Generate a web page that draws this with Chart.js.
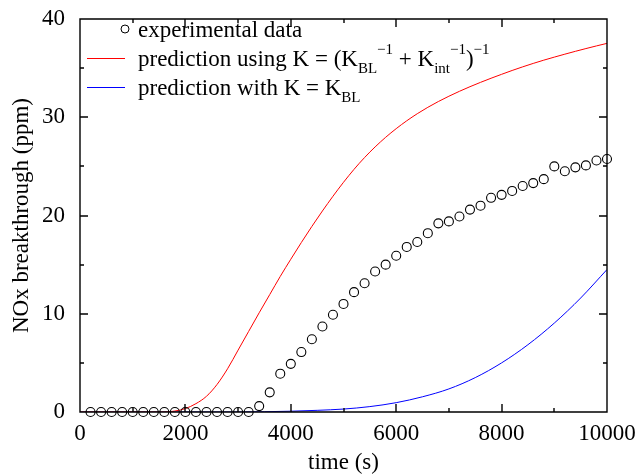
<!DOCTYPE html>
<html>
<head>
<meta charset="utf-8">
<script src="https://cdn.jsdelivr.net/npm/chart.js@4.4.1/dist/chart.umd.min.js"></script>
<style>
  html, body { margin: 0; padding: 0; background: #fff; }
  #wrap { width: 637px; height: 474px; }
</style>
</head>
<body>
<div id="wrap"><canvas id="chart" width="637" height="474"></canvas></div>
<script>
// Experimental points (time in s, NOx in ppm)
const expTime = [200, 400, 600, 800, 1000, 1200, 1400, 1600, 1800, 2000, 2200, 2400, 2600, 2800, 3000, 3200,
    3400, 3600, 3800, 4000, 4200, 4400, 4600, 4800, 5000, 5200, 5400, 5600, 5800, 6000, 6200, 6400,
    6600, 6800, 7000, 7200, 7400, 7600, 7800, 8000, 8200, 8400, 8600, 8800, 9000, 9200, 9400, 9600,
    9800, 10000];
const expNox = [0, 0, 0, 0, 0, 0, 0, 0, 0, 0, 0, 0, 0, 0, 0, 0,
    0.6, 2.0, 3.9, 4.9, 6.1, 7.4, 8.7, 9.9, 11.0, 12.2, 13.1, 14.3, 15.0, 15.9, 16.8, 17.3,
    18.2, 19.2, 19.4, 19.9, 20.6, 21.0, 21.8, 22.1, 22.5, 23.0, 23.3, 23.7, 25.0, 24.5, 24.9, 25.1,
    25.6, 25.75];

// Prediction with K = (K_BL^-1 + K_int^-1)^-1
const fullTime = [0, 1600, 1800, 2000, 2200, 2400, 2600, 2800, 3000, 3200, 3400, 3600, 3800, 4000,
    4200, 4400, 4600, 4800, 5000, 5200, 5400, 5600, 5800, 6000, 6200, 6400, 6600, 6800, 7000, 7200,
    7400, 7600, 7800, 8000, 8200, 8400, 8600, 8800, 9000, 9200, 9400, 9600, 9800, 10000];
const fullNox = [0, 0, 0.1, 0.35, 0.85, 1.6, 2.8, 4.4, 6.3, 8.2, 10.1, 11.95, 13.8, 15.55,
    17.25, 18.89, 20.46, 21.96, 23.38, 24.7, 25.9, 26.98, 27.96, 28.84, 29.64, 30.36, 31.01, 31.6, 32.14, 32.64,
    33.11, 33.55, 33.97, 34.37, 34.76, 35.13, 35.48, 35.81, 36.12, 36.42, 36.71, 36.99, 37.26, 37.52];

// Prediction with K = K_BL
const blTime = [0, 3000, 3500, 4000, 4500, 5000, 5500, 6000, 6500, 7000, 7500, 8000, 8500, 9000,
    9500, 10000];
const blNox = [0, 0, 0.03, 0.08, 0.17, 0.3, 0.55, 0.95, 1.55, 2.35, 3.5, 5.0, 6.85, 9.05,
    11.6, 14.5];

// Axis ticks
const xTickValues = [0, 2000, 4000, 6000, 8000, 10000];
const xMinorValues = [1000, 3000, 5000, 7000, 9000];
const yTickValues = [0, 10, 20, 30, 40];
const yMinorValues = [5, 15, 25, 35];

const FONT = 'Liberation Serif, Times New Roman, serif';

function toPoints(xs, ys) {
    return xs.map((v, i) => ({ x: v, y: ys[i] }));
}

// Frame with inward ticks on all four sides
function drawFrame(chart) {
    const ctx = chart.ctx;
    const a = chart.chartArea;
    const xs = chart.scales.x, ys = chart.scales.y;
    const L = Math.round(a.left), R = Math.round(a.right);
    const T = Math.round(a.top), B = Math.round(a.bottom);
    ctx.save();
    ctx.strokeStyle = '#000000';
    ctx.lineWidth = 1.4;
    ctx.beginPath();
    ctx.moveTo(L, T); ctx.lineTo(R, T); ctx.lineTo(R, B); ctx.lineTo(L, B); ctx.closePath();
    const tx = (v, len) => {
        const p = Math.round(xs.getPixelForValue(v));
        ctx.moveTo(p, B); ctx.lineTo(p, B - len);
        ctx.moveTo(p, T); ctx.lineTo(p, T + len);
    };
    const ty = (v, len) => {
        const p = Math.round(ys.getPixelForValue(v));
        ctx.moveTo(L, p); ctx.lineTo(L + len, p);
        ctx.moveTo(R, p); ctx.lineTo(R - len, p);
    };
    xTickValues.forEach(v => tx(v, 8));
    xMinorValues.forEach(v => tx(v, 4));
    yTickValues.forEach(v => ty(v, 8));
    yMinorValues.forEach(v => ty(v, 4));
    ctx.stroke();
    ctx.restore();
}

// Legend with sub/superscripts
function drawLegend(chart) {
    const ctx = chart.ctx;
    const ds = chart.data.datasets;
    const main = '23px ' + FONT, small = '15px ' + FONT;
    const textX = 138, rowBase = [37, 66, 95];

    // writes a sequence of [text, kind] pieces, kind: 0 normal, 1 sub, 2 sup
    const write = (pieces, base) => {
        let cx = textX;
        pieces.forEach(([txt, kind]) => {
            ctx.font = kind ? small : main;
            const dy = kind === 1 ? 7 : kind === 2 ? -12 : 0;
            ctx.fillText(txt, cx, base + dy);
            cx += ctx.measureText(txt).width;
        });
    };

    ctx.save();
    ctx.fillStyle = '#000';
    ctx.textBaseline = 'alphabetic';
    ctx.textAlign = 'left';

    // row 1: circle
    ctx.strokeStyle = ds[0].borderColor;
    ctx.lineWidth = 1;
    ctx.beginPath();
    ctx.arc(125, 29, 4, 0, Math.PI * 2);
    ctx.stroke();
    write([[ds[0].label, 0]], rowBase[0]);

    // rows 2 and 3: line samples
    [[ds[1], 58], [ds[2], 87]].forEach(([d, yy]) => {
        ctx.strokeStyle = d.borderColor;
        ctx.beginPath();
        ctx.moveTo(87, yy + 0.5);
        ctx.lineTo(125, yy + 0.5);
        ctx.stroke();
    });
    write([['prediction using K = (K', 0], ['BL', 1], ['\u22121', 2], [' + K', 0], ['int', 1],
        ['\u22121', 2], [')', 0], ['\u22121', 2]], rowBase[1]);
    write([['prediction with K = K', 0], ['BL', 1]], rowBase[2]);
    ctx.restore();
}

const overlay = {
    id: 'overlay',
    afterDraw(chart) {
        drawFrame(chart);
        drawLegend(chart);
    }
};

const ctx = document.getElementById('chart').getContext('2d');
const chart = new Chart(ctx, {
    type: 'scatter',
    data: {
        datasets: [
            {
                label: 'experimental data',
                data: toPoints(expTime, expNox),
                showLine: false,
                pointStyle: 'circle',
                pointRadius: 4.5,
                pointBorderWidth: 1.1,
                borderColor: '#000',
                backgroundColor: 'rgba(0,0,0,0)',
                clip: false
            },
            {
                label: 'prediction using K = (K_BL^-1 + K_int^-1)^-1',
                data: toPoints(fullTime, fullNox),
                showLine: true,
                borderColor: '#ff0000',
                borderWidth: 1,
                pointRadius: 0,
                cubicInterpolationMode: 'monotone'
            },
            {
                label: 'prediction with K = K_BL',
                data: toPoints(blTime, blNox),
                showLine: true,
                borderColor: '#0000ff',
                borderWidth: 1,
                pointRadius: 0,
                cubicInterpolationMode: 'monotone'
            }
        ]
    },
    options: {
        responsive: false,
        animation: false,
        devicePixelRatio: 1,
        layout: { padding: { top: 19, right: 30, left: 0, bottom: 0 } },
        plugins: {
            legend: { display: false },
            tooltip: { enabled: false }
        },
        scales: {
            x: {
                type: 'linear',
                min: 0,
                max: 10000,
                grid: { display: false, drawTicks: false },
                border: { display: false },
                afterBuildTicks: s => { s.ticks = xTickValues.map(v => ({ value: v })); },
                afterFit: s => { s.height = 62; s.paddingLeft = 0; s.paddingRight = 0; },
                ticks: {
                    maxRotation: 0,
                    autoSkip: false,
                    padding: 8,
                    color: '#000',
                    font: { family: FONT, size: 23 },
                    callback: v => String(v)
                },
                title: {
                    display: true,
                    text: 'time (s)',
                    color: '#000',
                    padding: 0,
                    font: { family: FONT, size: 23, lineHeight: 1 }
                }
            },
            y: {
                type: 'linear',
                min: 0,
                max: 40,
                grid: { display: false, drawTicks: false },
                border: { display: false },
                afterBuildTicks: s => { s.ticks = yTickValues.map(v => ({ value: v })); },
                afterFit: s => { s.width = 80; s.paddingTop = 0; s.paddingBottom = 0; },
                ticks: {
                    padding: 15,
                    color: '#000',
                    font: { family: FONT, size: 23 },
                    callback: v => String(v)
                },
                title: {
                    display: true,
                    text: 'NOx breakthrough (ppm)',
                    color: '#000',
                    padding: { top: 10, bottom: 10 },
                    font: { family: FONT, size: 23, lineHeight: 1 }
                }
            }
        }
    },
    plugins: [overlay]
});
</script>
</body>
</html>
